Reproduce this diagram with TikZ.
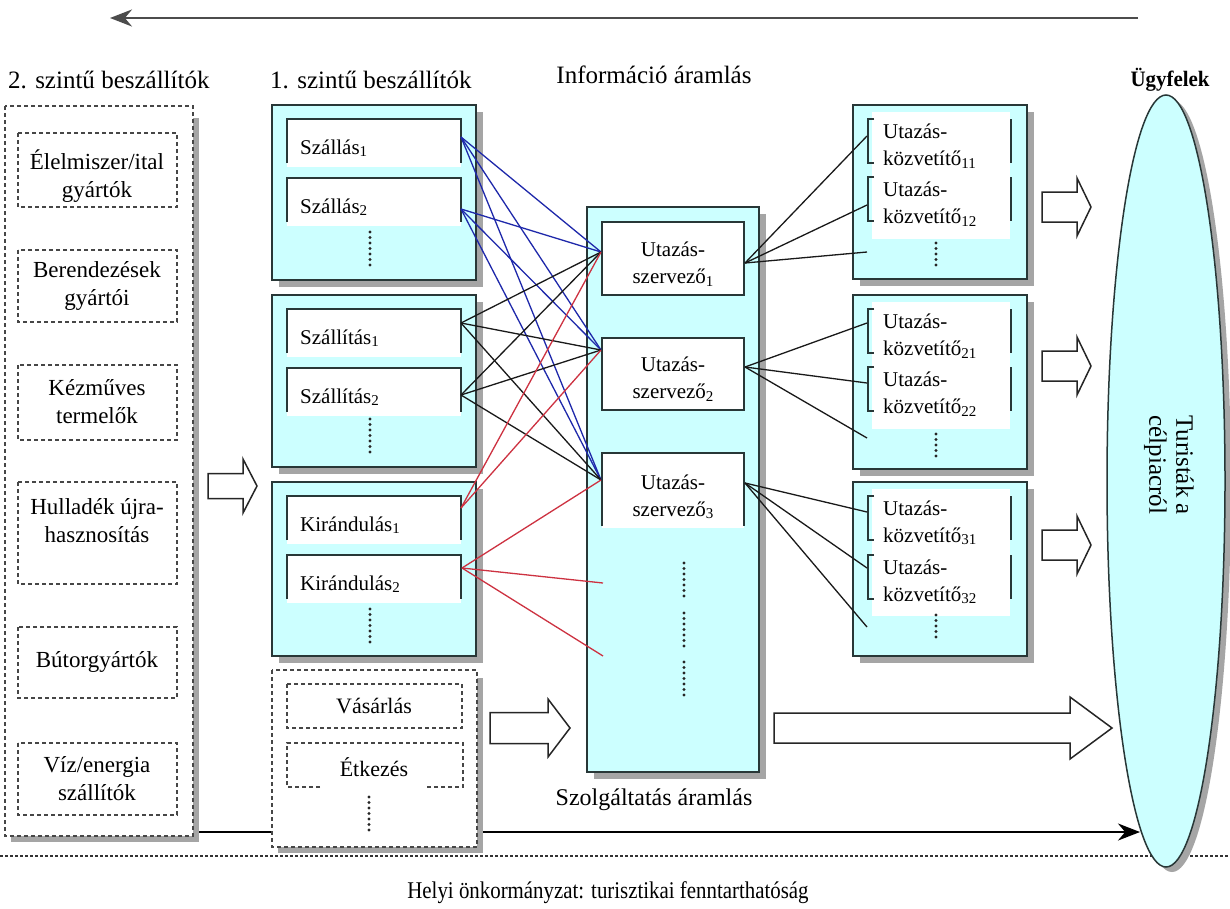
\documentclass[tikz,border=0pt]{standalone}
\usepackage{fontspec}
\setmainfont{Liberation Serif}
\usetikzlibrary{arrows.meta,shapes.geometric}
\definecolor{cyanf}{RGB}{204,255,255}
\definecolor{bdc}{RGB}{40,55,55}
\definecolor{shd}{RGB}{165,165,165}
\definecolor{lblue}{RGB}{30,40,170}
\definecolor{lred}{RGB}{205,50,65}
\definecolor{dashc}{RGB}{70,70,70}
\tikzset{
  bd/.style={draw=bdc,line width=1.6pt},
  shadowfill/.style={fill=shd},
  dbox/.style={draw=dashc,line width=1.5pt,dash pattern=on 4pt off 3pt},
  dotl/.style={line width=3.2pt,line cap=round,dash pattern=on 0pt off 5.5pt,draw=black!85},
  lab/.style={font=\fontsize{21}{27}\selectfont,inner sep=0pt},
  llab/.style={font=\fontsize{23}{28}\selectfont,inner sep=0pt,align=center},
  hdr/.style={font=\fontsize{25}{30}\selectfont,inner sep=0pt},
  barrow/.style={draw=black!85,fill=white,line width=1.5pt,line join=miter},
  flow/.style={line width=2.2pt,-{Stealth[length=22pt,width=17pt]}},
  cb/.style={draw=lblue,line width=1.3pt},
  ck/.style={draw=black!90,line width=1.3pt},
  cr/.style={draw=lred,line width=1.3pt},
}
\newcommand\sbx[1]{\raisebox{-0.25ex}{\fontsize{15}{15}\selectfont #1}}
\newcommand\cbox[4]{\fill[shadowfill] ({#1+7},{#2+7}) rectangle ({#3+7},{#4+7});
  \draw[bd,fill=cyanf] (#1,#2) rectangle (#3,#4);}
\newcommand\wlab[3]{\fill[white] (287,#2) rectangle (461,{#2+48});
  \draw[bd] (287,{#2+44}) -- (287,#2) -- (461,#2) -- (461,{#2+44});
  \node[lab,anchor=west] (#1) at (300,{#2+29}) {#3};}
\newcommand\klab[3]{\draw[bd] (874,#2) -- (868,#2) -- (868,{#2+44}) -- (874,{#2+44});
  \draw[bd] (1011,#2) -- (1011,{#2+44});
  \node[lab,anchor=west,align=left] (#1) at (883,{#2+27}) {Utazás-\\közvetítő\sbx{#3}};}
\newcommand\dotcol[3]{\draw[dotl] (#1,#2) -- (#1,#3);}
\newcommand\blockarr[6]{\draw[barrow] (#1,{#4-#5}) -- (#2,{#4-#5}) -- (#2,{#4-#6}) -- (#3,#4) -- (#2,{#4+#6}) -- (#2,{#4+#5}) -- (#1,{#4+#5}) -- cycle;}
\begin{document}
\begin{tikzpicture}[x=1pt,y=-1pt]
\useasboundingbox (0,0) rectangle (1230,908);
\fill[white] (0,0) rectangle (1230,908);

% flow arrows
\coordinate (ia) at (1138,18); \coordinate (ib) at (110,18);
\draw[flow,draw=black!70] (ia) -- (ib);
\node[hdr] (info) at (654,75) {Információ áramlás};
\coordinate (sa) at (95,832); \coordinate (sb) at (1140,832);
\draw[flow,draw=black] (sa) -- (sb);
\node[hdr,font=\fontsize{24}{28}\selectfont] (szolg) at (654,800) {Szolgáltatás áramlás};
\draw[draw=black!80,line width=1.6pt,dash pattern=on 3pt off 2pt] (0,856) -- (1230,856);
\node[lab,font=\fontsize{24}{28}\selectfont,xscale=0.87] (helyi) at (608,893) {Helyi önkormányzat: turisztikai fenntarthatóság};

% headers
\node[hdr,anchor=west] (h2) at (8,80) {2. szintű beszállítók};
\node[hdr,anchor=west] (h1) at (270,80) {1. szintű beszállítók};
\node[lab,font=\fontsize{22}{26}\selectfont\bfseries,xscale=0.95] (ugy) at (1170,80) {Ügyfelek};

% 2nd tier suppliers
\fill[shadowfill] (193,118) rectangle (199,842);
\fill[shadowfill] (11,836) rectangle (199,842);
\draw[dbox,fill=white] (5,106) rectangle (193,836);
\draw[dbox] (18,133) rectangle (177,207);
\node[llab] (t21) at (97,176) {Élelmiszer/ital\\gyártók};
\draw[dbox] (18,250) rectangle (177,322);
\node[llab] (t22) at (97,286) {Berendezések\\gyártói};
\draw[dbox] (18,365) rectangle (177,440);
\node[llab] (t23) at (97,402) {Kézműves\\termelők};
\draw[dbox] (18,482) rectangle (177,584);
\node[llab] (t24) at (97,521) {Hulladék újra-\\hasznosítás};
\draw[dbox] (18,627) rectangle (177,698);
\node[llab] (t25) at (97,662) {Bútorgyártók};
\draw[dbox] (18,743) rectangle (177,815);
\node[llab] (t26) at (97,779) {Víz/energia\\szállítók};

\blockarr{208}{243}{257}{486}{12.5}{27}

% 1st tier boxes
\cbox{272}{105}{476}{280}
\wlab{sz1}{119}{Szállás\sbx{1}}
\wlab{sz2}{178}{Szállás\sbx{2}}
\dotcol{370}{232}{265}
\cbox{272}{295}{476}{467}
\wlab{st1}{309}{Szállítás\sbx{1}}
\wlab{st2}{368}{Szállítás\sbx{2}}
\dotcol{370}{419}{453}
\cbox{272}{482}{476}{656}
\wlab{ki1}{496}{Kirándulás\sbx{1}}
\wlab{ki2}{555}{Kirándulás\sbx{2}}
\dotcol{370}{609}{643}

% services box
\fill[shadowfill] (477,678) rectangle (483,853);
\fill[shadowfill] (278,847) rectangle (483,853);
\draw[dbox,fill=white] (272,670) rectangle (477,847);
\draw[dbox] (287,684) rectangle (462,728);
\node[lab,font=\fontsize{22}{26}\selectfont] (vas) at (374,706) {Vásárlás};
\draw[dbox] (320,787) -- (287,787) -- (287,743) -- (463,743) -- (463,787) -- (427,787);
\node[lab,font=\fontsize{22}{26}\selectfont] (etk) at (374,767) {Étkezés};
\dotcol{369}{797}{830}
\blockarr{490}{548}{570}{728}{15.5}{29}

% tour operators
\cbox{587}{207}{759}{772}
\draw[bd,fill=white] (602,222) rectangle (744,295);
\node[lab,align=center] (so1) at (673,264) {Utazás-\\szervező\sbx{1}};
\draw[bd,fill=white] (602,338) rectangle (744,410);
\node[lab,align=center] (so2) at (673,379) {Utazás-\\szervező\sbx{2}};
\fill[white] (602,453) rectangle (744,528);
\draw[bd] (602,526) -- (602,453) -- (744,453) -- (744,526);
\node[lab,align=center] (so3) at (673,497) {Utazás-\\szervező\sbx{3}};
\dotcol{684}{563}{600}
\dotcol{684}{613}{648}
\dotcol{684}{662}{698}
\blockarr{774}{1070}{1112}{728}{15}{31}

% travel agents
\foreach \T in {105,295,482}{
  \cbox{853}{\T}{1027}{\T+174}
  \fill[white] (872,\T+7) rectangle (1010,\T+134);
}
\klab{k11}{119}{11}\klab{k12}{177}{12}\dotcol{936}{243}{266}
\klab{k21}{309}{21}\klab{k22}{367}{22}\dotcol{936}{434}{460}
\klab{k31}{496}{31}\klab{k32}{555}{32}\dotcol{936}{615}{642}
\blockarr{1042}{1077}{1091}{207}{15}{29}
\blockarr{1042}{1077}{1091}{366}{15}{29}
\blockarr{1042}{1077}{1091}{545}{15}{29}

% customers
\fill[shd] (1172,486) ellipse [x radius=59, y radius=386];
\node[ellipse,draw=bdc,line width=1.5pt,fill=cyanf,minimum width=118pt,minimum height=772pt,inner sep=0pt] (cust) at (1166,481) {};
\node[lab,rotate=-90,align=center,font=\fontsize{25}{27}\selectfont] (custt) at (1169,465) {Turisták a\\célpiacról};

% connection points
\coordinate (a1) at (461,137); \coordinate (a2) at (461,209);
\coordinate (b1) at (461,323); \coordinate (b2) at (461,395);
\coordinate (c1) at (461,508); \coordinate (c2) at (462,568);
\coordinate (t1) at (601,252); \coordinate (t2) at (601,350); \coordinate (t3) at (601,480);
\coordinate (e1) at (603,583); \coordinate (e2) at (603,656);
\coordinate (r1) at (745,263); \coordinate (r2) at (745,367); \coordinate (r3) at (745,483);
\coordinate (q11) at (867,136); \coordinate (q12) at (867,205); \coordinate (q1e) at (867,252);
\coordinate (q21) at (867,323); \coordinate (q22) at (867,383); \coordinate (q2e) at (867,438);
\coordinate (q31) at (867,512); \coordinate (q32) at (867,568); \coordinate (q3e) at (867,627);

\foreach \s in {a1,a2}{\foreach \t in {t1,t2,t3}{\draw[cb] (\s) -- (\t);}}
\foreach \s in {b1,b2}{\foreach \t in {t1,t2,t3}{\draw[ck] (\s) -- (\t);}}
\draw[cr] (c1) -- (t1); \draw[cr] (c1) -- (t2);
\draw[cr] (c2) -- (t3); \draw[cr] (c2) -- (e1); \draw[cr] (c2) -- (e2);
\draw[ck] (r1) -- (q11); \draw[ck] (r1) -- (q12); \draw[ck] (r1) -- (q1e);
\draw[ck] (r2) -- (q21); \draw[ck] (r2) -- (q22); \draw[ck] (r2) -- (q2e);
\draw[ck] (r3) -- (q31); \draw[ck] (r3) -- (q32); \draw[ck] (r3) -- (q3e);
\end{tikzpicture}
\end{document}
